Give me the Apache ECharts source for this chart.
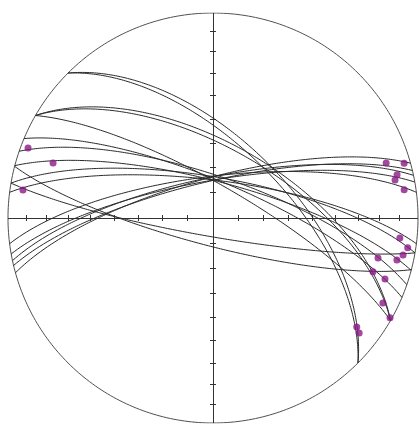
<!DOCTYPE html>
<html>
<head>
<meta charset="utf-8">
<script src="https://cdn.jsdelivr.net/npm/echarts@6/dist/echarts.min.js"></script>
<style>html,body{margin:0;padding:0;background:#fff;}#c{width:420px;height:428px;}</style>
</head>
<body>
<div id="c"></div>
<script>
// Great circles: strike (right-hand rule) and dip, degrees
const planeStrikes = [315, 315, 300, 300, 300, 292.8, 289, 284.8, 279.8, 277.2, 262.8, 259.9, 258.0, 256.6, 254.5, 99.8, 104.6];
const planeDips    = [59, 61.6, 60.4, 62.3, 77.0, 75.4, 73.5, 75.5, 73.8, 75.0, 73.5, 75.2, 74.0, 75.5, 74.2, 82.6, 78.9];
// Lineations: trend and plunge, degrees
const lineTrends  = [290.7, 289, 278.4, 72.4, 74.0, 76.8, 78.2, 81.6, 96.1, 98.7, 101.0, 102.9, 103.6, 108.6, 109.5, 116.6, 119.4, 127.2, 128.2];
const linePlunges = [4.0, 18.6, 7.0, 12.4, 3.4, 8.6, 10.2, 6.4, 9.2, 4.4, 6.2, 8.8, 18.3, 18.8, 12.0, 8.1, 1.0, 13.0, 10.2];
// Axis ticks: angular distance from centre, degrees
const tickAngles = [10, 20, 30, 40, 50, 60, 70, 80];

const D = Math.PI / 180;
function proj(trend, plunge) {
  const r = Math.SQRT2 * Math.sin((90 - plunge) / 2 * D);
  return [r * Math.sin(trend * D), r * Math.cos(trend * D)];
}
function greatCircle(s, d) {
  const pts = [];
  const se = Math.sin(s * D), sn = Math.cos(s * D);
  const de = Math.cos(d * D) * Math.sin((s + 90) * D), dn = Math.cos(d * D) * Math.cos((s + 90) * D), dd = Math.sin(d * D);
  for (let l = 0; l <= 180; l += 1) {
    const c = Math.cos(l * D), sl = Math.sin(l * D);
    const vE = c * se + sl * de, vN = c * sn + sl * dn, vD = Math.max(0, Math.min(1, sl * dd));
    const t = Math.atan2(vE, vN) / D;
    const p = Math.asin(vD) / D;
    pts.push(proj(t, p));
  }
  return pts;
}
const prim = [];
for (let a = 0; a <= 360; a += 1) prim.push([Math.sin(a * D), Math.cos(a * D)]);

const tk = 3 / 205;
const axisSegs = [
  {coords: [[-1, 0], [1, 0]]},
  {coords: [[0, -1], [0, 1]]}
];
tickAngles.forEach(function (a) {
  const r = Math.SQRT2 * Math.sin(a / 2 * D);
  [r, -r].forEach(function (v) {
    axisSegs.push({coords: [[v, -tk], [v, tk]]});
    axisSegs.push({coords: [[-tk, v], [tk, v]]});
  });
});

const series = [];
series.push({type: 'line', data: prim, showSymbol: false, silent: true,
  lineStyle: {color: '#505050', width: 1}, z: 2});
series.push({type: 'lines', coordinateSystem: 'cartesian2d', data: axisSegs, silent: true,
  lineStyle: {color: '#333', width: 1, opacity: 1}, z: 3});
planeStrikes.forEach(function (s, i) {
  series.push({type: 'line', data: greatCircle(s, planeDips[i]), showSymbol: false, silent: true,
    lineStyle: {color: '#2a2a2a', width: 1}, z: 4});
});
series.push({type: 'scatter', data: lineTrends.map(function (t, i) { return proj(t, linePlunges[i]); }),
  symbolSize: 7, itemStyle: {color: '#8a1a86'}, z: 6});

const chart = echarts.init(document.getElementById('c'), null, {renderer: 'canvas'});
chart.setOption({
  animation: false,
  backgroundColor: '#ffffff',
  grid: {left: 8, top: 13, width: 410, height: 410},
  xAxis: {type: 'value', min: -1, max: 1, show: false},
  yAxis: {type: 'value', min: -1, max: 1, show: false},
  series: series
});
</script>
</body>
</html>
